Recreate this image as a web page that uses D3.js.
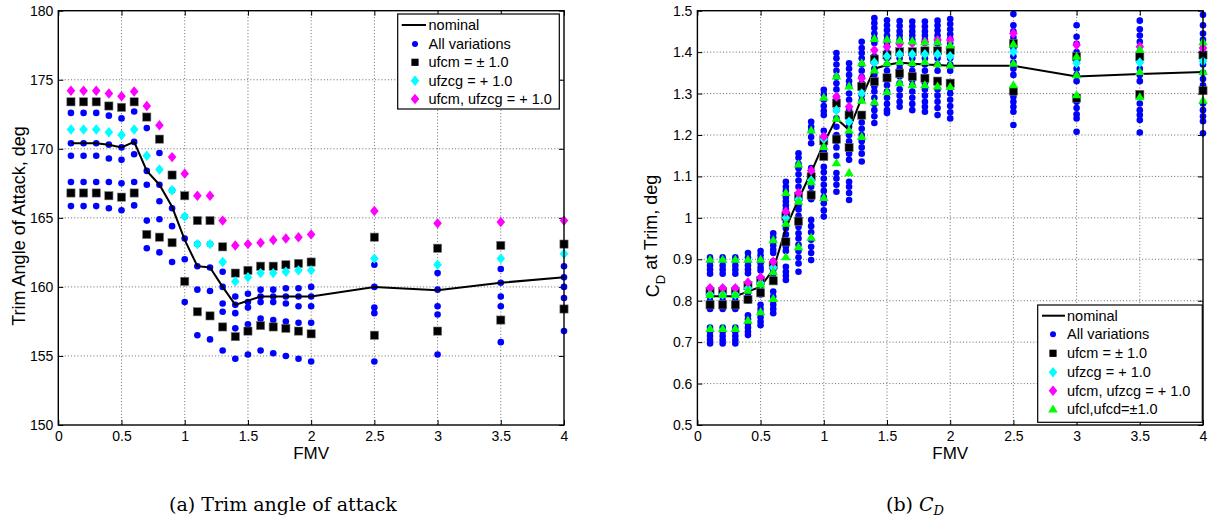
<!DOCTYPE html>
<html><head><meta charset="utf-8">
<script src="https://cdn.jsdelivr.net/npm/d3@7"></script>
<style>body{margin:0;background:#fff}svg{display:block}</style>
</head><body>
<svg id="c" width="1216" height="518"></svg>
<script>
const fmv = [0.1,0.2,0.3,0.4,0.5,0.6,0.7,0.8,0.9,1.0,1.1,1.2,1.3,1.4,1.5,1.6,1.7,1.8,1.9,2.0,2.5,3.0,3.5,4.0];
const xTickLabels = ["0","0.5","1","1.5","2","2.5","3","3.5","4"];
const aoaTickLabels = ["150","155","160","165","170","175","180"];
const cdTickLabels = ["0.5","0.6","0.7","0.8","0.9","1","1.1","1.2","1.3","1.4","1.5"];

// (a) trim angle of attack
const aoaNominal = [170.4,170.4,170.4,170.3,170.1,170.5,168.4,167.4,165.8,163.4,161.5,161.4,160.0,158.7,159.0,159.3,159.3,159.3,159.3,159.3,160.0,159.75,160.3,160.7];
const aoaAll = [
 [172.6,170.4,169.5,167.6,165.85],[172.6,170.4,169.5,167.6,165.85],[172.6,170.4,169.5,167.6,165.85],
 [172.4,170.3,169.3,167.6,165.7],[172.2,170.1,169.2,167.5,165.55],[172.7,170.5,169.6,167.6,165.9],
 [171.5,168.4,167.4,164.8,162.8],[169.7,167.4,166.2,164.9,162.5],[167.0,165.7,164.4,161.8],
 [165.1,163.5,162.0,158.9],[163.1,161.5,159.8,156.5],[163.1,161.4,159.7,156.2],
 [161.1,160.0,158.8,158.2,155.4],[159.3,158.7,158.1,157.0,154.8],[159.5,158.9,158.5,157.3,155.1],
 [159.8,159.3,158.9,157.7,155.4],[159.8,159.3,158.9,157.6,155.2],[159.9,159.3,158.8,157.5,155.0],
 [159.9,159.3,158.6,157.4,154.8],[160.0,159.3,158.6,157.4,154.6],
 [161.6,160.0,158.5,158.1,154.6],[161.0,159.8,158.6,158.0,155.1],[161.3,160.3,159.3,158.6,156.0],[161.5,160.7,160.0,159.2,156.8]
];
const aoaUfcmHi = [173.4,173.4,173.4,173.1,173.0,173.4,172.3,170.7,168.1,166.6,164.8,164.8,162.9,161.0,161.2,161.5,161.5,161.6,161.7,161.8,163.6,162.8,163.0,163.1];
const aoaUfcmLo = [166.8,166.8,166.8,166.6,166.5,166.8,163.8,163.6,163.2,160.4,158.2,157.9,157.1,156.4,156.8,157.2,157.1,157.0,156.8,156.6,156.5,156.8,157.6,158.4];
const aoaUfzcg = [171.4,171.4,171.4,171.2,171.0,171.4,169.5,168.5,167.0,165.1,163.1,163.1,161.8,160.4,160.7,161.0,161.0,161.1,161.2,161.2,162.05,161.6,162.05,162.4];
const aoaBoth = [174.2,174.2,174.2,174.0,173.8,174.15,173.1,171.7,169.4,168.2,166.6,166.6,164.8,163.0,163.1,163.2,163.4,163.5,163.6,163.8,165.5,164.6,164.7,164.8];

// (b) C_D
const cdNominal = [0.811,0.811,0.811,0.822,0.834,0.875,0.975,1.045,1.11,1.18,1.24,1.212,1.29,1.36,1.369,1.375,1.372,1.37,1.369,1.367,1.367,1.341,1.347,1.352];
const cdAll = [
 [0.905,0.895,0.885,0.875,0.865,0.83,0.82,0.81,0.80,0.79,0.78,0.735,0.725,0.715,0.705,0.697],
 [0.905,0.895,0.885,0.875,0.865,0.83,0.82,0.81,0.80,0.79,0.78,0.735,0.725,0.715,0.705,0.697],
 [0.905,0.895,0.885,0.875,0.865,0.83,0.82,0.81,0.80,0.79,0.78,0.735,0.725,0.715,0.705,0.697],
 [0.915,0.905,0.895,0.885,0.875,0.866,0.842,0.83,0.82,0.81,0.80,0.765,0.755,0.745,0.735,0.725,0.717],
 [0.92,0.91,0.90,0.89,0.88,0.873,0.855,0.845,0.835,0.825,0.815,0.79,0.78,0.77,0.76,0.75,0.741],
 [0.963,0.953,0.943,0.933,0.923,0.915,0.895,0.885,0.875,0.865,0.855,0.822,0.81,0.80,0.79,0.78,0.77],
 [1.087,1.075,1.065,1.05,1.04,1.03,1.02,1.011,0.99,0.975,0.96,0.945,0.93,0.92,0.882,0.87,0.86,0.85],
 [1.156,1.145,1.13,1.12,1.105,1.09,1.075,1.043,1.03,1.02,1.005,0.99,0.978,0.963,0.95,0.935,0.92,0.905,0.89,0.87],
 [1.232,1.22,1.21,1.195,1.18,1.12,1.11,1.10,1.09,1.075,1.06,1.045,0.995,0.98,0.965,0.947,0.93,0.915,0.898],
 [1.309,1.298,1.285,1.27,1.258,1.248,1.21,1.196,1.185,1.17,1.16,1.123,1.11,1.095,1.08,1.065,1.05,1.035,1.018,1.003],
 [1.398,1.385,1.37,1.355,1.34,1.325,1.31,1.292,1.26,1.24,1.22,1.2,1.185,1.17,1.15,1.108,1.095,1.08,1.063],
 [1.373,1.36,1.345,1.33,1.318,1.3,1.285,1.26,1.232,1.22,1.2,1.185,1.17,1.155,1.14,1.087,1.075,1.06,1.043],
 [1.425,1.41,1.398,1.385,1.37,1.355,1.34,1.325,1.31,1.296,1.284,1.244,1.23,1.215,1.2,1.185,1.17,1.155,1.136],
 [1.482,1.47,1.458,1.445,1.433,1.422,1.39,1.375,1.36,1.345,1.317,1.305,1.29,1.275,1.26,1.245,1.229],
 [1.477,1.465,1.453,1.44,1.43,1.422,1.40,1.385,1.37,1.355,1.333,1.32,1.305,1.29,1.275,1.26,1.253],
 [1.475,1.463,1.45,1.44,1.43,1.42,1.40,1.385,1.37,1.36,1.341,1.325,1.31,1.295,1.28,1.268],
 [1.474,1.462,1.45,1.44,1.43,1.422,1.40,1.385,1.37,1.355,1.333,1.32,1.305,1.29,1.275,1.26],
 [1.474,1.462,1.45,1.44,1.43,1.422,1.40,1.385,1.37,1.355,1.325,1.31,1.295,1.28,1.268,1.256],
 [1.476,1.464,1.452,1.44,1.43,1.421,1.40,1.385,1.37,1.355,1.325,1.31,1.295,1.28,1.265,1.248],
 [1.48,1.468,1.455,1.443,1.432,1.421,1.40,1.385,1.37,1.355,1.313,1.30,1.285,1.27,1.255,1.24],
 [1.492,1.465,1.45,1.435,1.41,1.39,1.375,1.36,1.345,1.292,1.28,1.268,1.256,1.224],
 [1.465,1.437,1.42,1.40,1.38,1.36,1.345,1.33,1.28,1.265,1.25,1.24,1.208],
 [1.476,1.455,1.44,1.425,1.40,1.38,1.36,1.345,1.33,1.276,1.26,1.248,1.236,1.206],
 [1.49,1.465,1.445,1.43,1.41,1.39,1.37,1.35,1.335,1.32,1.276,1.26,1.245,1.233,1.204]
];
const cdUfcmHi = [0.822,0.822,0.822,0.836,0.848,0.886,1.004,1.051,1.099,1.186,1.277,1.248,1.317,1.383,1.393,1.401,1.401,1.403,1.403,1.404,1.421,1.389,1.389,1.393];
const cdUfcmLo = [0.79,0.79,0.79,0.803,0.819,0.848,0.942,0.992,1.055,1.148,1.19,1.17,1.248,1.329,1.338,1.349,1.341,1.337,1.33,1.325,1.306,1.289,1.298,1.307];
const cdUfzcg = [0.815,0.815,0.815,0.83,0.842,0.88,1.0,1.045,1.09,1.19,1.26,1.232,1.30,1.375,1.39,1.395,1.395,1.395,1.395,1.39,1.401,1.373,1.375,1.378];
const cdBoth = [0.83,0.83,0.83,0.844,0.856,0.894,1.015,1.06,1.114,1.196,1.292,1.268,1.337,1.405,1.413,1.42,1.422,1.425,1.429,1.429,1.445,1.417,1.413,1.41];
const cdUfclHi = [0.90,0.90,0.90,0.90,0.90,0.947,1.061,1.13,1.212,1.291,1.342,1.318,1.374,1.433,1.431,1.429,1.427,1.425,1.425,1.417,1.42,1.39,1.407,1.425];
const cdUfclMid = [0.815,0.815,0.815,0.825,0.84,0.87,0.987,1.04,1.087,1.172,1.24,1.212,1.284,1.357,1.374,1.377,1.375,1.377,1.372,1.369,1.373,1.345,1.353,1.353];
const cdUfclLo = [0.733,0.733,0.733,0.753,0.773,0.805,0.906,0.930,0.953,1.049,1.133,1.109,1.196,1.28,1.305,1.326,1.321,1.321,1.318,1.317,1.321,1.297,1.292,1.284];

const legendA = ["nominal","All variations","ufcm = \u00b1 1.0","ufzcg = + 1.0","ufcm, ufzcg = + 1.0"];
const legendB = ["nominal","All variations","ufcm = \u00b1 1.0","ufzcg = + 1.0","ufcm, ufzcg = + 1.0","ufcl,ufcd=\u00b11.0"];

const svg = d3.select("#c");
const FONT = "'Liberation Sans', Arial, Helvetica, sans-serif";

function diamondPath(cx, cy){ const w=4.3,h=5.2; return `M${cx},${cy-h}L${cx+w},${cy}L${cx},${cy+h}L${cx-w},${cy}Z`; }
function trianglePath(cx, cy){ const w=4.8,h=4.6; return `M${cx},${cy-h}L${cx+w},${cy+h*0.75}L${cx-w},${cy+h*0.75}Z`; }
const markers = {
  dot:(g,x,y)=>g.append("circle").attr("cx",x).attr("cy",y).attr("r",3.3).attr("fill","#0000ff"),
  square:(g,x,y)=>g.append("rect").attr("x",x-4.1).attr("y",y-4.1).attr("width",8.2).attr("height",8.2).attr("fill","#000").attr("stroke","#777").attr("stroke-width",0.6),
  cyan:(g,x,y)=>g.append("path").attr("d",diamondPath(x,y)).attr("fill","#00ffff"),
  magenta:(g,x,y)=>g.append("path").attr("d",diamondPath(x,y)).attr("fill","#ff00ff"),
  green:(g,x,y)=>g.append("path").attr("d",trianglePath(x,y)).attr("fill","#00ff00")
};

function panel(cfg){
  const x = d3.scaleLinear().domain([0,4]).range([cfg.left, cfg.right]);
  const y = d3.scaleLinear().domain(cfg.yDomain).range([425, 10.7]);
  const g = svg.append("g");
  const xt = d3.range(0,4.001,0.5), yt = cfg.yTicks;
  // grid
  const grid = g.append("g").attr("stroke","#444").attr("stroke-width",0.8).attr("stroke-dasharray","1,2.2");
  xt.slice(1,-1).forEach(v=>grid.append("line").attr("x1",x(v)).attr("x2",x(v)).attr("y1",y.range()[1]).attr("y2",425));
  yt.slice(1,-1).forEach(v=>grid.append("line").attr("x1",cfg.left).attr("x2",cfg.right).attr("y1",y(v)).attr("y2",y(v)));
  // axes (MATLAB-like, inward ticks on all sides)
  const ax = g.append("g");
  const bottom = ax.append("g").attr("transform","translate(0,425)").call(d3.axisBottom(x).tickValues(xt).tickFormat((d,i)=>xTickLabels[i]).tickSizeInner(-5).tickSizeOuter(0).tickPadding(6));
  const top = ax.append("g").attr("transform","translate(0,10.7)").call(d3.axisTop(x).tickValues(xt).tickFormat("").tickSizeInner(-5).tickSizeOuter(0));
  const lft = ax.append("g").attr("transform",`translate(${cfg.left},0)`).call(d3.axisLeft(y).tickValues(yt).tickFormat((d,i)=>cfg.yLabels[i]).tickSizeInner(-5).tickSizeOuter(0).tickPadding(5));
  const rgt = ax.append("g").attr("transform",`translate(${cfg.right},0)`).call(d3.axisRight(y).tickValues(yt).tickFormat("").tickSizeInner(-5).tickSizeOuter(0));
  [bottom,top,lft,rgt].forEach(a=>{a.select(".domain").remove(); a.selectAll("line").attr("stroke","#000");
    a.selectAll("text").attr("fill","#000").attr("font-family",FONT).attr("font-size",14);});
  // data
  const pts = g.append("g");
  fmv.forEach((f,i)=>cfg.all[i].forEach(v=>markers.dot(pts,x(f),y(v))));
  g.append("path").datum(fmv.map((f,i)=>[f,cfg.nominal[i]]))
    .attr("d",d3.line().x(d=>x(d[0])).y(d=>y(d[1]))).attr("fill","none").attr("stroke","#000").attr("stroke-width",2);
  const top2 = g.append("g");
  cfg.series.forEach(s=>fmv.forEach((f,i)=>markers[s.m](top2,x(f),y(s.v[i]))));
  // frame
  g.append("rect").attr("x",cfg.left).attr("y",10.7).attr("width",cfg.right-cfg.left).attr("height",425-10.7)
    .attr("fill","none").attr("stroke","#000").attr("stroke-width",1.4);
  // labels
  g.append("text").attr("x",(cfg.left+cfg.right)/2).attr("y",459).attr("text-anchor","middle")
    .attr("font-family",FONT).attr("font-size",17).text("FMV");
  const yl = g.append("text").attr("transform",`translate(${cfg.yLabelX},${cfg.yLabelY}) rotate(-90)`).attr("text-anchor","middle")
    .attr("font-family",FONT).attr("font-size",cfg.yLabelSize);
  cfg.yLabel(yl);
  // legend
  const L = cfg.legend;
  const lg = g.append("g");
  lg.append("rect").attr("x",L.x0).attr("y",L.y0).attr("width",L.x1-L.x0).attr("height",L.y1-L.y0).attr("fill","#fff").attr("stroke","#000").attr("stroke-width",1.2);
  L.labels.forEach((t,i)=>{
    const ry = L.rows[i];
    if(i===0) lg.append("line").attr("x1",L.lx0).attr("x2",L.lx1).attr("y1",ry).attr("y2",ry).attr("stroke","#000").attr("stroke-width",2);
    else {
      const m = ["dot","square","cyan","magenta","green"][i-1];
      if(m==="dot") lg.append("circle").attr("cx",L.mx).attr("cy",ry).attr("r",3).attr("fill","#0000ff");
      else if(m==="square") lg.append("rect").attr("x",L.mx-3.6).attr("y",ry-3.6).attr("width",7.2).attr("height",7.2).attr("fill","#000");
      else markers[m](lg,L.mx,ry);
    }
    lg.append("text").attr("x",L.tx).attr("y",ry).attr("dy","0.35em").attr("font-family",FONT).attr("font-size",14.5).text(t);
  });
}

panel({
  left:58.3, right:564, yDomain:[150,180], yTicks:d3.range(150,180.1,5), yLabels:aoaTickLabels,
  all:aoaAll, nominal:aoaNominal,
  series:[{m:"square",v:aoaUfcmHi},{m:"square",v:aoaUfcmLo},{m:"cyan",v:aoaUfzcg},{m:"magenta",v:aoaBoth}],
  yLabelX:25, yLabelY:226, yLabelSize:18,
  yLabel:t=>t.text("Trim Angle of Attack, deg"),
  legend:{x0:397.7,y0:14,x1:559.3,y1:109,rows:[25,44,62.3,80.7,99],lx0:401.7,lx1:426,mx:415,tx:428.5,labels:legendA}
});
panel({
  left:697.4, right:1203, yDomain:[0.5,1.5], yTicks:d3.range(0,11).map(i=>0.5+i*0.1), yLabels:cdTickLabels,
  all:cdAll, nominal:cdNominal,
  series:[{m:"square",v:cdUfcmHi},{m:"square",v:cdUfcmLo},{m:"cyan",v:cdUfzcg},{m:"magenta",v:cdBoth},{m:"green",v:cdUfclHi},{m:"green",v:cdUfclMid},{m:"green",v:cdUfclLo}],
  yLabelX:659, yLabelY:236, yLabelSize:18,
  yLabel:t=>{t.append("tspan").text("C"); t.append("tspan").attr("font-size",13).attr("dy","0.45em").text("D"); t.append("tspan").attr("dy","-0.45em").text(" at Trim, deg");},
  legend:{x0:1037.7,y0:305,x1:1202.3,y1:422.3,rows:[315.7,334.3,353.3,372.3,390.7,409],lx0:1042,lx1:1065,mx:1053,tx:1067,labels:legendB}
});

// sub-captions
const SERIF = "'DejaVu Serif', 'Liberation Serif', serif";
svg.append("text").attr("x",283).attr("y",511).attr("text-anchor","middle").attr("font-family",SERIF).attr("font-size",19).text("(a) Trim angle of attack");
const cap = svg.append("text").attr("x",915).attr("y",511).attr("text-anchor","middle").attr("font-family",SERIF).attr("font-size",19);
cap.append("tspan").text("(b) ");
cap.append("tspan").attr("font-style","italic").text("C");
cap.append("tspan").attr("font-style","italic").attr("font-size",13).attr("dy","0.3em").text("D");
</script>
</body></html>
